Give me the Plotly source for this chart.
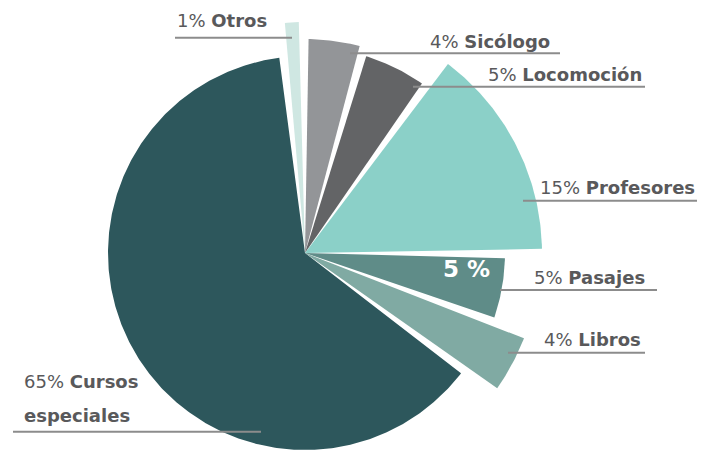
import math
import plotly.graph_objects as go

W, H = 714, 452
OFF = 8  # page offset (body margin) seen in the rendered picture

# ---- data ----
categories = ["Otros", "Sicólogo", "Locomoción", "Profesores", "Pasajes", "Libros", "Cursos especiales"]
percent = [1, 4, 5, 15, 5, 4, 65]

# ---- styles ----
colors = ["#cfe7e2", "#939598", "#636466", "#8bd0c8", "#5f8c88", "#80aaa3", "#2d575c"]
slice_radius = [231, 214, 206, 237, 200, 235, 197]   # px, varying (exploded look)
gap_deg = 2.5
start_deg = -5.0
FONT = "DejaVu Sans"
TXT = "#59595b"
LINE = "#8c8c8c"

# pie centre in page pixels
CXp, CYp = 305, 253
cx, cy = CXp - OFF, CYp - OFF  # in figure pixels

fig = go.Figure()

# angular extent of each slice from the percentages
avail = 360 - gap_deg * len(percent)
tot = sum(percent)
a = start_deg
for name, p, col, rad in zip(categories, percent, colors, slice_radius):
    w = p / tot * avail
    n = max(4, int(w / 0.5))
    angs = [a + w * k / n for k in range(n + 1)]
    xs = [0.0] + [rad * math.sin(math.radians(t)) for t in angs] + [0.0]
    ys = [0.0] + [rad * math.cos(math.radians(t)) for t in angs] + [0.0]
    fig.add_trace(go.Scatter(x=xs, y=ys, mode="lines", fill="toself", fillcolor=col,
                             line=dict(width=0, color=col), name=name, hoverinfo="name",
                             showlegend=False))
    a += w + gap_deg

fig.update_layout(
    width=W, height=H, margin=dict(l=0, r=0, t=0, b=0),
    paper_bgcolor="white", plot_bgcolor="white",
    xaxis=dict(range=[-cx, W - cx], visible=False, fixedrange=True),
    yaxis=dict(range=[-(H - cy), cy], visible=False, fixedrange=True),
)


def px(x):
    return (x - OFF) / W


def py(y):
    return 1 - (y - OFF) / H


# label placements (page px): (category index, x, baseline y, anchor, line x0, line x1, line y)
placements = [
    (0, 175, 27, "left", 175, 292, 37.7),
    (1, 552, 47.7, "right", 350, 560, 53.3),
    (2, 644, 81, "right", 413, 645, 86.7),
    (3, 697, 194.3, "right", 523, 697, 200.7),
    (4, 647, 283.3, "right", 500, 657, 290),
    (5, 643, 345.7, "right", 508, 645, 352.7),
]
fs = 18
for i, x, base, anch, x0, x1, ly in placements:
    fig.add_annotation(x=px(x), y=py(base - 0.35 * fs), xref="paper", yref="paper",
                       text=f"{percent[i]}% <b>{categories[i]}</b>", showarrow=False,
                       xanchor=anch, yanchor="middle", font=dict(family=FONT, size=fs, color=TXT))
    fig.add_shape(type="line", xref="paper", yref="paper", x0=px(x0), x1=px(x1), y0=py(ly), y1=py(ly),
                  line=dict(color=LINE, width=2))

# Cursos especiales (two lines)
first, second = categories[6].split(" ")
fig.add_annotation(x=px(22), y=py(387.3 - 0.35 * fs), xref="paper", yref="paper",
                   text=f"{percent[6]}% <b>{first}</b>", showarrow=False, xanchor="left", yanchor="middle",
                   font=dict(family=FONT, size=fs, color=TXT))
fig.add_annotation(x=px(22), y=py(421.7 - 0.35 * fs), xref="paper", yref="paper",
                   text=f"<b>{second}</b>", showarrow=False, xanchor="left", yanchor="middle",
                   font=dict(family=FONT, size=fs, color=TXT))
fig.add_shape(type="line", xref="paper", yref="paper", x0=px(13), x1=px(261), y0=py(431.7), y1=py(431.7),
              line=dict(color=LINE, width=2))

# inside label on Pasajes
fig.add_annotation(x=px(466), y=py(277 - 0.35 * 23), xref="paper", yref="paper",
                   text=f"<b>{percent[4]} %</b>", showarrow=False, xanchor="center", yanchor="middle",
                   font=dict(family=FONT, size=23, color="white"))

fig.write_html("out.html")
